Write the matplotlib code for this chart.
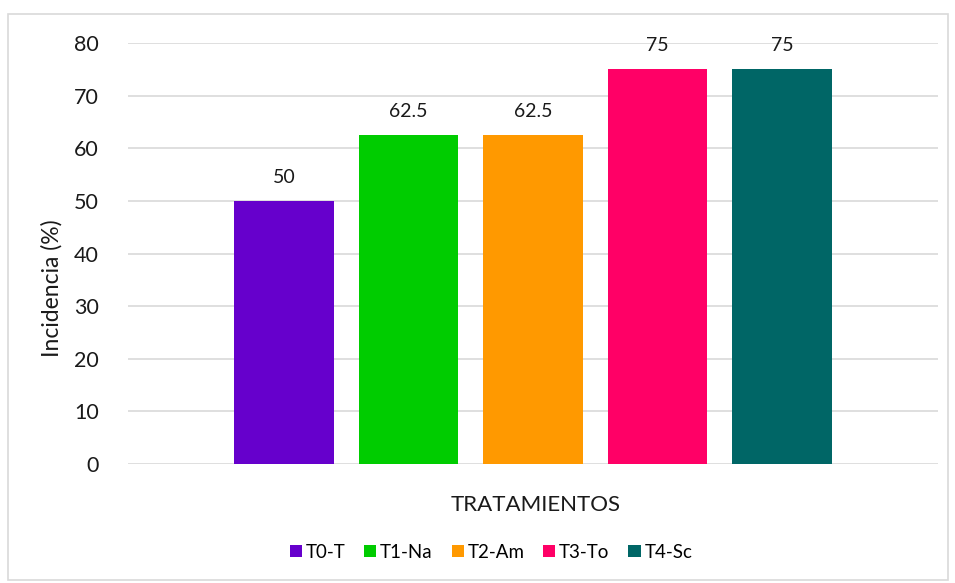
import matplotlib
matplotlib.use("Agg")
import matplotlib.pyplot as plt
from matplotlib.patches import Rectangle

plt.rcParams['font.family'] = ['Lato', 'DejaVu Sans']

# data
series = ["T0-T", "T1-Na", "T2-Am", "T3-To", "T4-Sc"]
values = [50, 62.5, 62.5, 75, 75]
labels = ["50", "62.5", "62.5", "75", "75"]
colors = ["#6600CC", "#00CC00", "#FF9900", "#FF0066", "#006666"]
yticks = [0, 10, 20, 30, 40, 50, 60, 70, 80]

txt = "#1A1A1A"

fig = plt.figure(figsize=(9.55, 5.83), dpi=100)
fig.patches.append(Rectangle((8 / 955, 1 - 580 / 583), 940 / 955, 566 / 583,
                             transform=fig.transFigure, fill=False,
                             edgecolor="#D9D9D9", linewidth=1.2))

ax = fig.add_axes([128 / 955, 119 / 583, 810 / 955, 421 / 583])

for i, (s, v, c, lab) in enumerate(zip(series, values, colors, labels)):
    ax.bar(i, v, width=0.8, color=c, label=s, zorder=3)
    ax.annotate(lab, (i, v), xytext=(0, 17), textcoords="offset points",
                ha="center", va="center", fontsize=14, color=txt)

ax.set_xlim(-1.253, 5.253)
ax.set_ylim(0, 80)
ax.set_yticks(yticks)
ax.set_xticks([])
ax.tick_params(axis="y", length=0, pad=21, labelsize=15.5, labelcolor=txt)
ax.yaxis.grid(True, color="#D9D9D9", linewidth=1.2, zorder=0)
for sp in ax.spines.values():
    sp.set_visible(False)

fig.text(52 / 955, 1 - 288 / 583, "Incidencia (%)", rotation=90,
         ha="center", va="center", fontsize=16.5, color=txt)
fig.text(536 / 955, 1 - 505 / 583, "TRATAMIENTOS", ha="center", va="center",
         fontsize=16, color=txt)

fig.legend(loc="center", bbox_to_anchor=(491 / 955, 1 - 552 / 583), ncol=5,
           frameon=False, fontsize=13.5, handlelength=0.65, handleheight=0.65,
           handletextpad=0.2, columnspacing=1.0)

fig.savefig("out.png", dpi=100)
